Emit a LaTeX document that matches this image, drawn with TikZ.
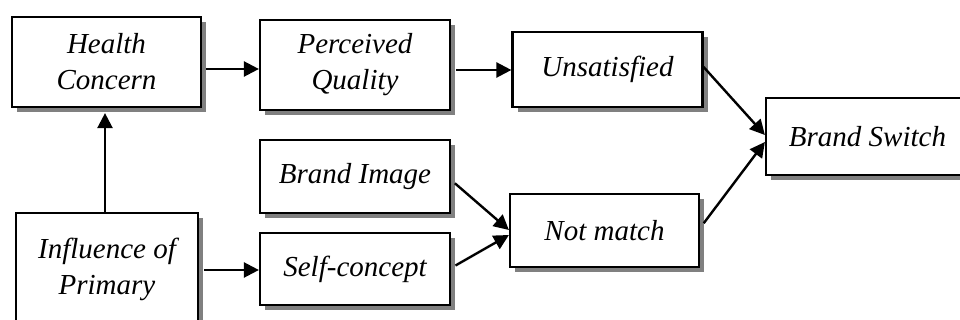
\documentclass[tikz,border=0pt]{standalone}
\usepackage{fontspec}
\setmainfont{Liberation Serif}
\usetikzlibrary{arrows.meta,shadows,calc}
\begin{document}
\begin{tikzpicture}[x=1pt,y=-1pt,
  box/.style={draw=black,line width=2.2pt,fill=white,inner sep=0pt,
    align=center,font=\itshape\fontsize{29}{36}\selectfont,
    general shadow={fill=black!50,shadow xshift=5pt,shadow yshift=-5pt}},
  arr/.style={line width=2.4pt,-{Triangle[length=15pt,width=15pt]}}]
\useasboundingbox (0,0) rectangle (960,320);
\fill[white] (0,0) rectangle (960,320);
\begin{scope}
\clip (0,0) rectangle (960,320);
% boxes
\node[box,minimum width=189pt,minimum height=90pt] (hc) at (106.5,62) {Health\\Concern};
\node[box,minimum width=190pt,minimum height=90pt] (pq) at (355,65) {Perceived\\Quality};
\node[box,minimum width=190pt,minimum height=75pt] (uns) at (607.5,69.5) {Unsatisfied};
\node[box,minimum width=203pt,minimum height=77pt] (bs) at (867.5,136.5) {Brand Switch};
\node[box,minimum width=190pt,minimum height=73pt] (bi) at (355,176.5) {Brand Image};
\node[box,minimum width=190pt,minimum height=72pt] (sc) at (355,269) {Self-concept};
\node[box,minimum width=182pt,minimum height=112pt] (inf) at (107,269) {Influence of\\Primary};
\node[box,minimum width=189pt,minimum height=73pt] (nm) at (604.5,230.5) {Not match};
% connectors
\draw[arr,shorten <=4pt] (hc.east |- 0,69) -- (pq.west |- 0,69);
\draw[arr,shorten <=5pt] (pq.east |- 0,70) -- (uns.west |- 0,70);
\draw[arr] (uns.east |- 0,67) -- (bs.west |- 0,135);
\draw[arr] (inf.north -| 105,0) -- ($(hc.south -| 105,0)+(0,5)$);
\draw[arr,shorten <=5pt] (inf.east |- 0,270) -- (sc.west |- 0,270);
\draw[arr,shorten <=5pt] (bi.east |- 0,180) -- (nm.west |- 0,230);
\draw[arr,shorten <=5pt] (sc.east |- 0,268) -- (nm.west |- 0,235);
\draw[arr,shorten <=6pt] (nm.east |- 0,228) -- (bs.west |- 0,142);
\end{scope}
\end{tikzpicture}
\end{document}
